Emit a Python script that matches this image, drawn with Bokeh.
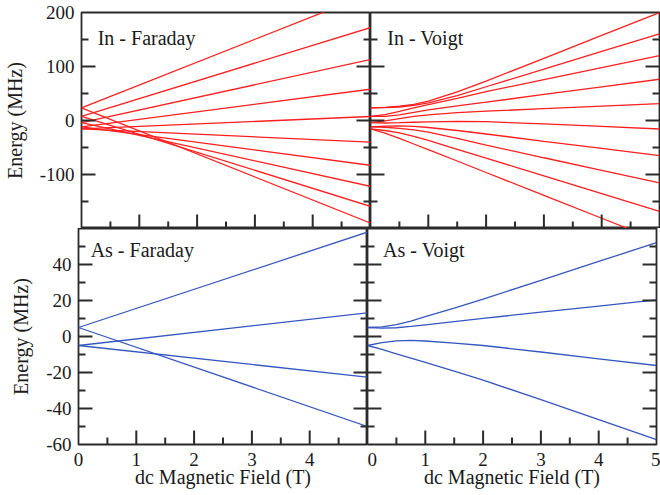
from bokeh.plotting import figure
from bokeh.models import Range1d, LinearAxis, FixedTicker, Label
from bokeh.layouts import column, row
from bokeh.embed import file_html
from bokeh.resources import INLINE

# ---------------- data ----------------
x_lo, x_hi = 0, 5
in_y_lo, in_y_hi = -200, 200
as_y_lo, as_y_hi = -60, 60

field_ends = [0, 5]

# In - Faraday (straight lines): energy at 0 T and at 5 T
in_far_start = [23.5, 23.5, 7.8, 7.8, -3.9, -3.9, -11.7, -11.7, -15.6, -15.6]
in_far_end = [235, -190, 172, -159, 113, -122, 58, -83, 7.4, -40]

# Voigt curves sampled at these fields
voigt_field = [0, 0.25, 0.5, 0.75, 1.0, 1.5, 2.0, 3.0, 4.0, 5.0]

in_v1 = [23.5, 24.2, 26.5, 30.0, 36.0, 53.0, 73.0, 115.2, 157.5, 199.8]
in_v2 = [23.5, 23.7, 25.0, 28.0, 32.5, 46.0, 62.5, 95.0, 127.8, 160.6]
in_v3 = [7.8, 11.0, 17.0, 23.5, 29.5, 41.0, 53.5, 75.5, 97.8, 120.0]
in_v4 = [7.8, 7.8, 10.5, 15.0, 19.5, 27.0, 34.0, 48.2, 62.3, 76.4]
in_v5 = [-3.9, -0.5, 3.5, 7.5, 10.5, 14.5, 17.2, 21.9, 26.6, 31.3]
in_v6 = [-3.9, -4.6, -4.0, -3.2, -2.5, -1.8, -2.2, -6.3, -11.0, -15.7]
in_v7 = [-11.7, -10.3, -10.0, -11.0, -13.0, -18.5, -25.0, -38.5, -51.8, -65.0]
in_v8 = [-11.7, -12.5, -14.5, -17.5, -21.5, -33.3, -45.5, -69.0, -92.3, -115.6]
in_v9 = [-15.6, -18.5, -23.0, -29.5, -37.0, -53.3, -69.7, -102.6, -135.5, -168.4]
in_v10 = [-15.6, -23.5, -33.0, -43.5, -54.0, -75.0, -96.3, -138.6, -181.0, -223.2]
in_voigt = [in_v1, in_v2, in_v3, in_v4, in_v5, in_v6, in_v7, in_v8, in_v9, in_v10]

# As - Faraday (straight lines)
as_far_start = [5, -5, -5, 5]
as_far_end = [58, 13.2, -22.6, -50]

# As - Voigt
as_v1 = [5.0, 5.4, 6.6, 8.6, 11.0, 15.8, 20.8, 31.2, 41.7, 52.1]
as_v2 = [5.0, 4.6, 4.85, 5.6, 6.5, 8.3, 10.1, 13.5, 16.9, 20.3]
as_v3 = [-5.0, -3.4, -2.4, -2.1, -2.5, -3.7, -5.0, -8.6, -12.4, -16.1]
as_v4 = [-5.0, -7.2, -9.6, -12.0, -14.4, -19.2, -24.2, -35.1, -46.2, -57.3]
as_voigt = [as_v1, as_v2, as_v3, as_v4]

# ticks
x_labels_left = [0, 1, 2, 3, 4]
x_labels_right = [0, 1, 2, 3, 4, 5]
x_major = [1, 2, 3, 4]
x_minor = [0.5, 1.5, 2.5, 3.5, 4.5]
in_y_labels = [-100, 0, 100, 200]
in_y_major = [-100, 0, 100]
in_y_minor = [-150, -50, 50, 150]
as_y_labels = [-60, -40, -20, 0, 20, 40]
as_y_major = [-40, -20, 0, 20, 40]
as_y_minor = [-50, -30, -10, 10, 30, 50]

# ---------------- style ----------------
FONT = "Liberation Serif"
FRAME = "#2b2b2b"
TEXT = "#1a1a1a"
RED = "#ff1f1f"
BLUE = "#3557c0"
FW = 289          # frame width (px)
FH = 216          # frame height (px)
MAJOR_PX = 14     # inward tick lengths (px)
MINOR_PX = 7
TICK_W = 2


def add_label_axis(p, side, ticks, title, standoff, title_standoff):
    ax = LinearAxis(ticker=FixedTicker(ticks=ticks, minor_ticks=[]))
    ax.major_tick_in = 0
    ax.major_tick_out = 0
    ax.minor_tick_in = 0
    ax.minor_tick_out = 0
    ax.axis_line_color = None
    ax.major_label_overrides = {t: str(t) for t in ticks}
    ax.major_label_text_font = FONT
    ax.major_label_text_font_size = "19px"
    ax.major_label_text_color = TEXT
    ax.major_label_standoff = standoff
    ax.axis_label = title
    ax.axis_label_text_font = FONT
    ax.axis_label_text_font_size = "20px"
    ax.axis_label_text_font_style = "normal"
    ax.axis_label_text_color = TEXT
    ax.axis_label_standoff = title_standoff
    p.add_layout(ax, side)


def add_ticks(p, y_lo, y_hi, y_major, y_minor):
    # inward ticks on the left, right and bottom edges of the frame
    dxM = MAJOR_PX * (x_hi - x_lo) / FW
    dxm = MINOR_PX * (x_hi - x_lo) / FW
    dyM = MAJOR_PX * (y_hi - y_lo) / FH
    dym = MINOR_PX * (y_hi - y_lo) / FH
    for ticks, dx in ((y_major, dxM), (y_minor, dxm)):
        n = len(ticks)
        p.segment(x0=[x_lo] * n, y0=ticks, x1=[x_lo + dx] * n, y1=ticks,
                  line_color=FRAME, line_width=TICK_W)
        p.segment(x0=[x_hi] * n, y0=ticks, x1=[x_hi - dx] * n, y1=ticks,
                  line_color=FRAME, line_width=TICK_W)
    for ticks, dy in ((x_major, dyM), (x_minor, dym)):
        n = len(ticks)
        p.segment(x0=ticks, y0=[y_lo] * n, x1=ticks, y1=[y_lo + dy] * n,
                  line_color=FRAME, line_width=TICK_W)


def make_fig(y_lo, y_hi, bl, br, bt, bb):
    p = figure(frame_width=FW, frame_height=FH,
               x_range=Range1d(x_lo, x_hi), y_range=Range1d(y_lo, y_hi),
               x_axis_type=None, y_axis_type=None,
               output_backend="svg", toolbar_location=None, tools="",
               min_border_left=bl, min_border_right=br,
               min_border_top=bt, min_border_bottom=bb)
    p.outline_line_color = FRAME
    p.outline_line_width = 1.8
    p.background_fill_color = "white"
    p.border_fill_color = None
    return p


def add_text(p, x, y, text):
    p.add_layout(Label(x=x, y=y, text=text, text_font=FONT, text_font_size="20px",
                       text_color=TEXT, text_baseline="alphabetic"))


# ---- In - Faraday ----
p1 = make_fig(in_y_lo, in_y_hi, 78, 0, 12, 0)
for s, e in zip(in_far_start, in_far_end):
    p1.line(field_ends, [s, e], line_color=RED, line_width=1.3)
add_ticks(p1, in_y_lo, in_y_hi, in_y_major, in_y_minor)
add_label_axis(p1, "left", in_y_labels, "Energy (MHz)", 7, 11)
add_text(p1, 0.28, 152, "In - Faraday")

# ---- In - Voigt ----
p2 = make_fig(in_y_lo, in_y_hi, 0, 4, 12, 0)
for ys in in_voigt:
    p2.line(voigt_field, ys, line_color=RED, line_width=1.3)
add_ticks(p2, in_y_lo, in_y_hi, in_y_major, in_y_minor)
add_text(p2, 0.29, 152, "In - Voigt")

# ---- As - Faraday ----
p3 = make_fig(as_y_lo, as_y_hi, 78, 0, 0, 51)
for s, e in zip(as_far_start, as_far_end):
    p3.line(field_ends, [s, e], line_color=BLUE, line_width=1.3)
add_ticks(p3, as_y_lo, as_y_hi, as_y_major, as_y_minor)
add_label_axis(p3, "left", as_y_labels, "Energy (MHz)", 7, 11)
add_label_axis(p3, "below", x_labels_left, "dc Magnetic Field (T)", 8, -3)
add_text(p3, 0.21, 47.9, "As - Faraday")

# ---- As - Voigt ----
p4 = make_fig(as_y_lo, as_y_hi, 0, 4, 0, 51)
for ys in as_voigt:
    p4.line(voigt_field, ys, line_color=BLUE, line_width=1.3)
add_ticks(p4, as_y_lo, as_y_hi, as_y_major, as_y_minor)
add_label_axis(p4, "below", x_labels_right, "dc Magnetic Field (T)", 8, -3)
add_text(p4, 0.27, 47.9, "As - Voigt")

layout = column(row(p1, p2), row(p3, p4))

open("out.html", "w").write(file_html(layout, INLINE))
